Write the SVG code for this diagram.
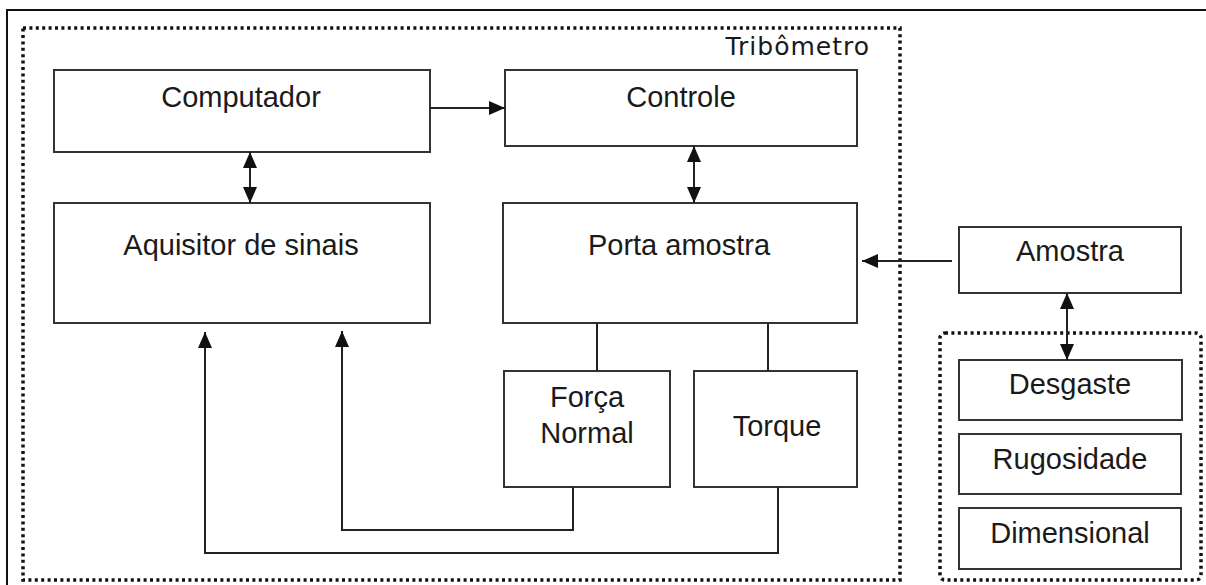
<svg xmlns="http://www.w3.org/2000/svg" width="1206" height="585" viewBox="0 0 1206 585">
<style>
.box{fill:#fff;stroke:#333;stroke-width:2}
.dot{fill:none;stroke:#111;stroke-width:3.5;stroke-dasharray:3 3.4}
.ln{fill:none;stroke:#222;stroke-width:2}
.t{font-family:"Liberation Sans",Arial,sans-serif;font-size:29px;fill:#1a1a1a;text-anchor:middle}
.t2{font-family:"DejaVu Sans",sans-serif;font-size:25px;fill:#1a1a1a;text-anchor:end;letter-spacing:1px}
</style>
<defs>
<marker id="ah" viewBox="0 0 16 14" refX="16" refY="7" markerWidth="16" markerHeight="14" markerUnits="userSpaceOnUse" orient="auto-start-reverse">
<path d="M0,0 L16,7 L0,14 Z" fill="#111"/>
</marker>
</defs>
<rect width="1206" height="585" fill="#fff"/>
<g id="frame">
<path d="M7,585 V10 H1206" fill="none" stroke="#111" stroke-width="2"/>
</g>
<g id="tribometro">
<rect class="dot" x="23" y="28" width="877" height="552"/>
<text class="t2" x="870" y="55">Tribômetro</text>
</g>
<g id="grupo-medicao">
<rect class="dot" x="940" y="333" width="261" height="247" rx="5"/>
</g>
<g id="computador">
<rect class="box" x="54" y="70" width="376" height="82"/>
<text class="t" x="241" y="107">Computador</text>
</g>
<g id="controle">
<rect class="box" x="505" y="70" width="352" height="76"/>
<text class="t" x="681" y="107">Controle</text>
</g>
<g id="aquisitor">
<rect class="box" x="54" y="203" width="376" height="120"/>
<text class="t" x="241" y="255">Aquisitor de sinais</text>
</g>
<g id="porta-amostra">
<rect class="box" x="503" y="203" width="354" height="120"/>
<text class="t" x="679" y="255">Porta amostra</text>
</g>
<g id="forca-normal">
<rect class="box" x="504" y="371" width="166" height="116"/>
<text class="t" x="587" y="407">Força</text>
<text class="t" x="587" y="443">Normal</text>
</g>
<g id="torque">
<rect class="box" x="694" y="371" width="163" height="116"/>
<text class="t" x="777" y="436">Torque</text>
</g>
<g id="amostra">
<rect class="box" x="959" y="227" width="222" height="66"/>
<text class="t" x="1070" y="261">Amostra</text>
</g>
<g id="desgaste">
<rect class="box" x="959" y="360" width="223" height="60"/>
<text class="t" x="1070" y="394">Desgaste</text>
</g>
<g id="rugosidade">
<rect class="box" x="959" y="434" width="222" height="60"/>
<text class="t" x="1070" y="469">Rugosidade</text>
</g>
<g id="dimensional">
<rect class="box" x="959" y="508" width="222" height="61"/>
<text class="t" x="1070" y="543">Dimensional</text>
</g>
<g id="connectors">
<line class="ln" x1="430" y1="108" x2="505" y2="108" marker-end="url(#ah)"/>
<line class="ln" x1="250" y1="152" x2="250" y2="203" marker-start="url(#ah)" marker-end="url(#ah)"/>
<line class="ln" x1="694" y1="146" x2="694" y2="203" marker-start="url(#ah)" marker-end="url(#ah)"/>
<line class="ln" x1="952" y1="261" x2="862" y2="261" marker-end="url(#ah)"/>
<line class="ln" x1="1067" y1="293" x2="1067" y2="360" marker-start="url(#ah)" marker-end="url(#ah)"/>
<line class="ln" x1="597" y1="323" x2="597" y2="371"/>
<line class="ln" x1="768" y1="323" x2="768" y2="371"/>
<polyline class="ln" points="573,487 573,530 342,530 342,331" marker-end="url(#ah)"/>
<polyline class="ln" points="778,487 778,553 205,553 205,332" marker-end="url(#ah)"/>
</g>
</svg>
